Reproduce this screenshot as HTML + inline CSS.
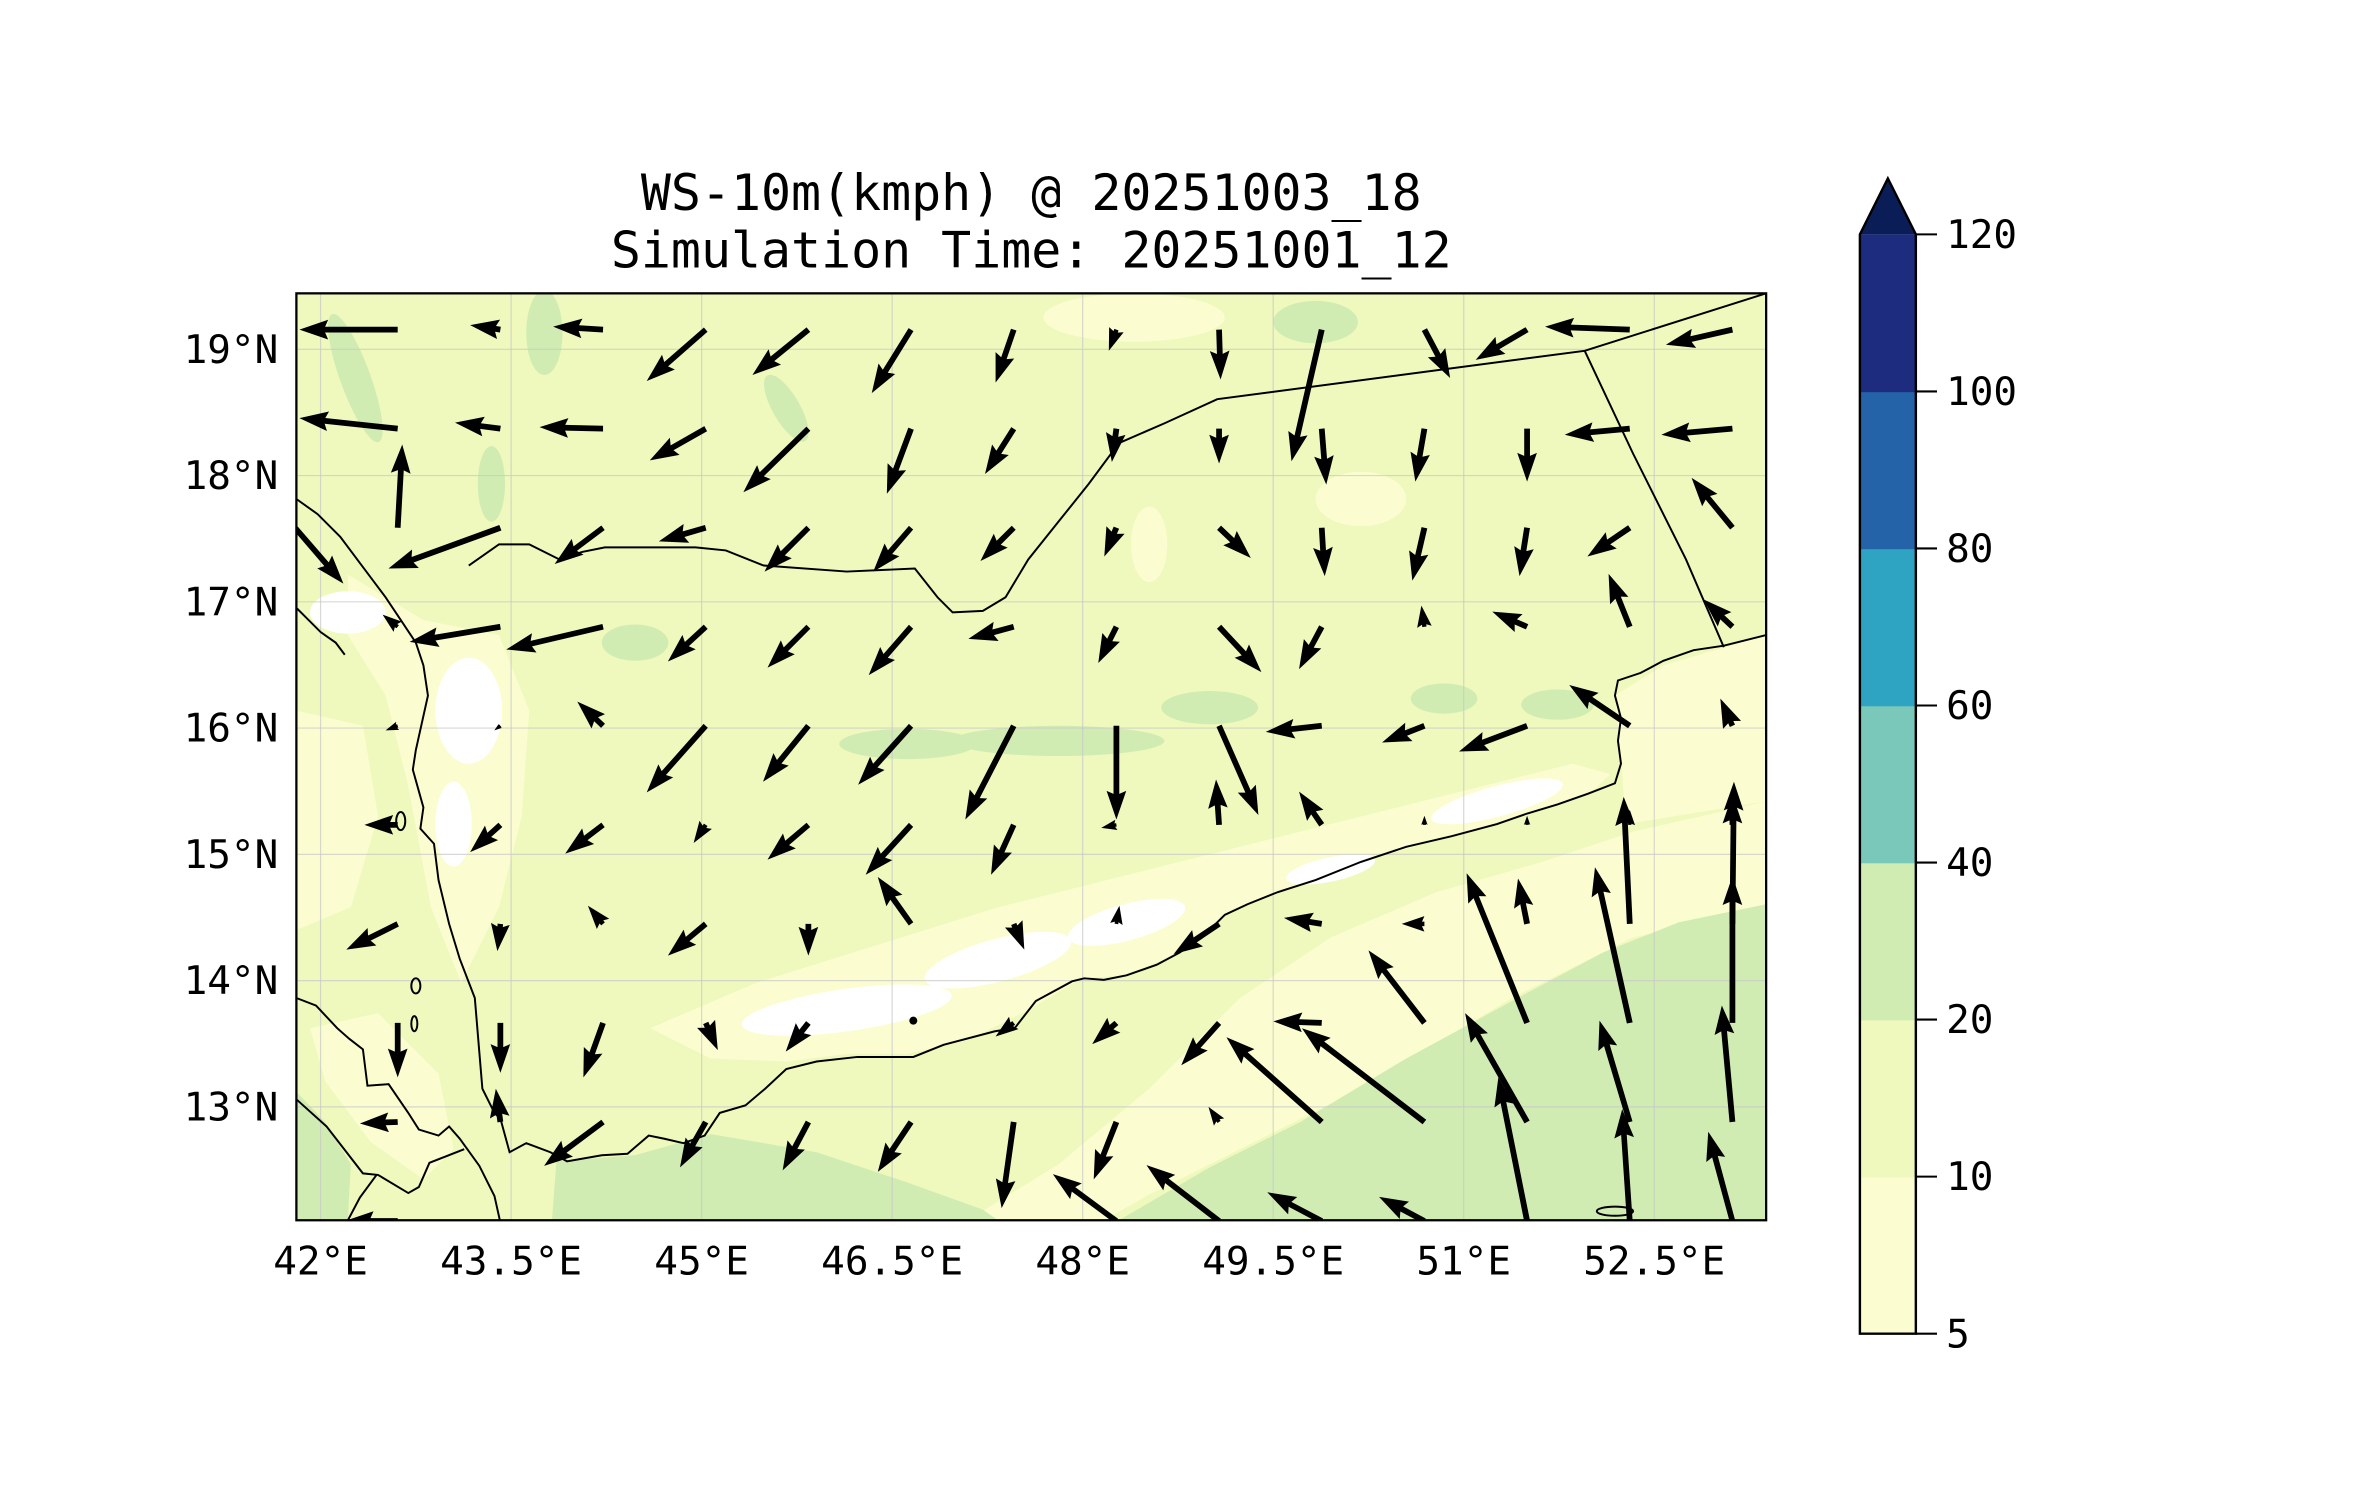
<!DOCTYPE html>
<html><head><meta charset="utf-8">
<style>
html,body{margin:0;padding:0;background:#fff;}
svg{display:block;}
text{font-family:"DejaVu Sans Mono","Liberation Mono",monospace;fill:#000;}
</style></head>
<body>
<svg id="fig" width="2371" height="1500" viewBox="0 0 1568 992" xmlns="http://www.w3.org/2000/svg">
  <defs>
    <clipPath id="mapclip"><rect x="196" y="194" width="972" height="613"/></clipPath>
  </defs>
  <text x="682" y="139" font-size="33" text-anchor="middle">WS-10m(kmph) @ 20251003_18</text>
  <text x="682" y="177" font-size="33" text-anchor="middle">Simulation Time: 20251001_12</text>

  <g clip-path="url(#mapclip)">
    <rect x="196" y="194" width="972" height="613" fill="#eff8bd"/>
    <g>
      <path fill="#fbfdd0" d="M640,807 L700,770 L760,720 L820,660 L880,620 L950,590 L1020,570 L1080,550 L1168,530 L1168,600 L1080,620 L1000,660 L900,720 L820,760 L760,790 L730,807 Z"/>
      <path fill="#fbfdd0" d="M1068,460 L1100,440 L1168,420 L1168,530 L1075,545 L1072,500 Z"/>
      <path fill="#d0ecb3" d="M740,807 L800,772 L860,742 L930,700 L1000,662 L1060,630 L1110,610 L1168,598 L1168,807 Z"/>
      <path fill="#d0ecb3" d="M365,807 L368,768 L420,764 L470,750 L540,762 L600,782 L650,800 L660,807 Z"/>
      <path fill="#d0ecb3" d="M196,722 L215,742 L232,770 L230,807 L196,807 Z"/>
      <path fill="#fbfdd0" d="M430,680 L500,650 L580,625 L660,600 L740,580 L820,560 L900,540 L980,520 L1040,505 L1065,512 L1050,526 L1010,538 L960,553 L900,570 L845,590 L810,605 L780,630 L745,645 L715,647 L680,668 L640,688 L600,697 L560,697 L520,702 L470,700 Z"/>
      <g fill="#ffffff">
        <ellipse cx="560" cy="668" rx="70" ry="14" transform="rotate(-8 560 668)"/>
        <ellipse cx="660" cy="635" rx="50" ry="14" transform="rotate(-15 660 635)"/>
        <ellipse cx="745" cy="610" rx="40" ry="12" transform="rotate(-15 745 610)"/>
        <ellipse cx="990" cy="530" rx="45" ry="10" transform="rotate(-15 990 530)"/>
        <ellipse cx="880" cy="575" rx="30" ry="8" transform="rotate(-12 880 575)"/>
      </g>
      <path fill="#fbfdd0" d="M230,380 L280,410 L330,420 L350,470 L345,540 L330,600 L305,650 L285,600 L270,520 L255,460 L230,420 Z"/>
      <g fill="#ffffff">
        <ellipse cx="310" cy="470" rx="22" ry="35"/>
        <ellipse cx="300" cy="545" rx="12" ry="28"/>
        <ellipse cx="230" cy="405" rx="25" ry="14"/>
      </g>
      <path fill="#fbfdd0" d="M196,470 L240,480 L250,540 L232,600 L196,615 Z"/>
      <path fill="#fbfdd0" d="M205,680 L250,670 L290,710 L300,760 L280,780 L245,755 L215,715 Z"/>
      <g fill="#d0ecb3">
        <ellipse cx="800" cy="468" rx="32" ry="11"/>
        <ellipse cx="700" cy="490" rx="70" ry="10"/>
        <ellipse cx="600" cy="492" rx="45" ry="10"/>
        <ellipse cx="955" cy="462" rx="22" ry="10"/>
        <ellipse cx="1030" cy="466" rx="24" ry="10"/>
        <ellipse cx="870" cy="213" rx="28" ry="14"/>
        <ellipse cx="420" cy="425" rx="22" ry="12"/>
        <ellipse cx="235" cy="250" rx="10" ry="45" transform="rotate(-20 235 250)"/>
        <ellipse cx="325" cy="320" rx="9" ry="25"/>
        <ellipse cx="360" cy="220" rx="12" ry="28"/>
        <ellipse cx="520" cy="270" rx="9" ry="25" transform="rotate(-30 520 270)"/>
      </g>
      <g fill="#fbfdd0">
        <ellipse cx="750" cy="210" rx="60" ry="16"/>
        <ellipse cx="900" cy="330" rx="30" ry="18"/>
        <ellipse cx="760" cy="360" rx="12" ry="25"/>
      </g>
    </g>

    <g id="gridlines" stroke="#c8c8c8" stroke-width="0.8" stroke-opacity="0.7"></g>

    <g fill="none" stroke="#000" stroke-width="1.3">
      <polyline points="196,330 210,340 225,355 240,375 255,395 265,410 275,425 280,440 283,460 275,496 273,509 280,534 278,548 287,558 290,582 297,611 304,634 314,660 317,696 319,720 327,736 331,740 337,762 348,756 364,762 375,768 398,764 415,763 429,751 439,753 452,756 466,751 476,736 493,731 506,720 520,707 540,702 567,699 604,699 624,691 658,682 671,680 685,662 709,649 717,647 730,648 745,645 765,638 780,630 795,620 810,605 825,598 845,590 870,582 900,570 930,560 960,553 990,545 1010,538 1030,532 1050,525 1068,518 1072,505 1070,490 1072,475 1068,460 1070,450 1085,445 1100,437 1120,430 1140,427 1168,420"/>
      <polyline points="196,660 209,665 223,680 231,687 240,694 243,718 257,717 270,736 277,747 290,751 297,745 304,753 317,771 327,791 331,809"/>
      <polyline points="196,402 204,410 212,418 222,425 228,433"/>
      <polyline points="196,727 216,745 240,776 250,777 270,789 277,785 284,769 307,760"/>
      <polyline points="249,777 238,792 229,809"/>
      <polyline points="310,374 330,360 350,360 370,370 385,365 400,362 460,362 480,364 505,374 560,378 605,376 620,395 630,405 650,404 665,395 680,370 700,345 720,320 740,293 770,280 805,264 1048,232 1168,194"/>
      <polyline points="1048,232 1080,300 1115,370 1140,428"/>
      <ellipse cx="265" cy="543" rx="3" ry="6"/>
      <ellipse cx="275" cy="652" rx="3" ry="5"/>
      <ellipse cx="274" cy="677" rx="2" ry="5"/>
      <ellipse cx="1068" cy="801" rx="12" ry="3"/>
      <circle cx="604" cy="675" r="2" fill="#000"/>
    </g>

    <g id="arrows" fill="#000"></g>
  </g>
  <rect x="196" y="194" width="972" height="613" fill="none" stroke="#000" stroke-width="1.5"/>

  <g id="latlabels" font-size="26"></g>
  <g id="lonlabels" font-size="26"></g>

  <g id="colorbar"></g>
</svg>
<script>
// ---- data ----
var lonTicks = [42, 43.5, 45, 46.5, 48, 49.5, 51, 52.5];
var latTicks = [19, 18, 17, 16, 15, 14, 13];
var lonLabels = ["42°E","43.5°E","45°E","46.5°E","48°E","49.5°E","51°E","52.5°E"];
var latLabels = ["19°N","18°N","17°N","16°N","15°N","14°N","13°N"];
var cbLevels = [5, 10, 20, 40, 60, 80, 100, 120];
var cbColors = ["#fbfdd0","#eff8bd","#d0ecb3","#7ac8ba","#2fa4c2","#2463a8","#1e2c80"];
var cbExtendColor = "#0a1d57";
// wind components per grid row (north to south), columns west to east (first column is edge column)
var windU = [
 [0,-65,-20,-33,-39,-37,-26,-12,-5,1,-20,17,-34,-56,-44],
 [0,-65,-30,-42,-37,-43,-16,-19,-3,0,3,-6,0,-43,-47],
 [32,3,-74,-32,-31,-29,-25,-22,-8,21,2,-8,-5,-28,-27],
 [0,-10,-60,-64,-25,-27,-28,-30,-12,28,-15,-2,-23,-14,-19],
 [0,-8,-4,-17,-39,-30,-35,-32,0,26,-37,-28,-45,-40,-8],
 [0,-22,-20,-25,-8,-27,-30,-15,-10,-2,-15,0,0,0,0],
 [0,-34,-2,-10,-25,0,-22,7,2,-30,-25,-15,-6,-4,1],
 [0,0,0,-13,8,-15,0,-12,-16,-25,-32,-37,-40,-23,0],
 [0,-25,-3,-39,-17,-17,-22,-8,-15,-7,-63,-81,-41,-20,-7],
 [0,-35,0,0,0,0,0,0,-42,-48,-36,-30,-19,-5,-16]
];
var windV = [
 [0,0,3,2,-34,-30,-42,-35,-14,-33,-87,-32,-20,2,-10],
 [0,7,4,1,-21,-42,-43,-30,-22,-23,-37,-35,-35,-4,-4],
 [-37,55,-27,-24,-9,-29,-29,-22,-19,-20,-32,-35,-32,-19,33],
 [0,8,-10,-15,-23,-27,-32,-8,-24,-30,-28,14,10,35,18],
 [0,-3,-3,16,-44,-37,-39,-62,-62,-59,-4,-11,-17,27,18],
 [0,0,-18,-19,-12,-23,-33,-33,-2,30,22,6,6,10,20],
 [0,-17,-18,12,-21,-21,31,-17,12,-20,4,0,30,84,94],
 [0,-36,-33,-36,-18,-19,0,-9,-14,-28,1,48,99,103,97],
 [0,-1,22,-29,-30,-32,-33,-57,-38,10,56,62,72,67,77],
 [0,0,-10,-10,-10,-10,-10,-10,31,37,19,16,95,74,59]
];

// ---- axis functions ----
function lonX(lon){ return 212 + (lon - 42) * 84; }
function latY(lat){ return 231 - (lat - 19) * 83.5; }
function gridX(c){ return 263 + (c - 1) * 67.9; }
function gridY(r){ return 218 + r * 65.5; }
var NS = "http://www.w3.org/2000/svg";

var gl = document.getElementById('gridlines');
lonTicks.forEach(function(lon){
  var l = document.createElementNS(NS,'line');
  
  
  l.setAttribute('x1', lonX(lon)); l.setAttribute('x2', lonX(lon));
  l.setAttribute('y1', 194); l.setAttribute('y2', 807);
  gl.appendChild(l);
});
latTicks.forEach(function(lat){
  var l = document.createElementNS(NS,'line');
  
  
  l.setAttribute('x1', 196); l.setAttribute('x2', 1168);
  l.setAttribute('y1', latY(lat)); l.setAttribute('y2', latY(lat));
  gl.appendChild(l);
});

var ll = document.getElementById('latlabels');
latTicks.forEach(function(lat,i){
  var t = document.createElementNS(NS,'text');
  
  
  t.setAttribute('x', 184); t.setAttribute('y', latY(lat) + 9);
  t.setAttribute('text-anchor','end');
  t.textContent = latLabels[i];
  ll.appendChild(t);
});
var lo = document.getElementById('lonlabels');
lonTicks.forEach(function(lon,i){
  var t = document.createElementNS(NS,'text');
  
  
  t.setAttribute('x', lonX(lon)); t.setAttribute('y', 843);
  t.setAttribute('text-anchor','middle');
  t.textContent = lonLabels[i];
  lo.appendChild(t);
});

var ag = document.getElementById('arrows');
var W = 3.8, HW = 13, HL = 19, HA = 17;
for (var r = 0; r < windU.length; r++){
  for (var c = 0; c < windU[r].length; c++){
    var dx = windU[r][c], dy = -windV[r][c];
    var L = Math.sqrt(dx*dx + dy*dy);
    if (L < 1) continue;
    var s = L < HL ? L / HL : 1;
    var w = W * Math.max(s, 0.6), hw = HW * s, hl = HL * s, ha = HA * s;
    var pts = [[0,-w/2],[L-ha,-w/2],[L-hl,-hw/2],[L,0],[L-hl,hw/2],[L-ha,w/2],[0,w/2]];
    var ang = Math.atan2(dy, dx), ca = Math.cos(ang), sa = Math.sin(ang);
    var tx = gridX(c), ty = gridY(r);
    var str = pts.map(function(p){ return (tx + p[0]*ca - p[1]*sa).toFixed(1) + ',' + (ty + p[0]*sa + p[1]*ca).toFixed(1); }).join(' ');
    var poly = document.createElementNS(NS,'polygon');
    
    
    poly.setAttribute('points', str);
    ag.appendChild(poly);
  }
}

var cb = document.getElementById('colorbar');
var cbX = 1230, cbW = 37, cbTop = 155, cbBot = 882;
var step = (cbBot - cbTop) / (cbLevels.length - 1);
function cbY(i){ return cbBot - i * step; }
for (var i = 0; i < cbColors.length; i++){
  var rc = document.createElementNS(NS,'rect');
  
  
  rc.setAttribute('x', cbX); rc.setAttribute('width', cbW);
  rc.setAttribute('y', cbY(i+1)); rc.setAttribute('height', step + 0.5);
  rc.setAttribute('fill', cbColors[i]);
  cb.appendChild(rc);
}
var tri = document.createElementNS(NS,'polygon');


tri.setAttribute('points', cbX+','+cbTop+' '+(cbX+cbW/2)+',118 '+(cbX+cbW)+','+cbTop);
tri.setAttribute('fill', cbExtendColor);
cb.appendChild(tri);
var outline = document.createElementNS(NS,'polygon');


outline.setAttribute('points', cbX+','+cbBot+' '+cbX+','+cbTop+' '+(cbX+cbW/2)+',118 '+(cbX+cbW)+','+cbTop+' '+(cbX+cbW)+','+cbBot);
outline.setAttribute('fill', 'none'); outline.setAttribute('stroke', '#000'); outline.setAttribute('stroke-width', '1.6');
cb.appendChild(outline);
cbLevels.forEach(function(v,i){
  var tk = document.createElementNS(NS,'line');
  
  
  tk.setAttribute('x1', cbX+cbW); tk.setAttribute('x2', cbX+cbW+14);
  tk.setAttribute('y1', cbY(i)); tk.setAttribute('y2', cbY(i));
  tk.setAttribute('stroke', '#000'); tk.setAttribute('stroke-width', '1.4');
  cb.appendChild(tk);
  var t = document.createElementNS(NS,'text');
  
  
  t.setAttribute('x', 1287); t.setAttribute('y', cbY(i) + 9);
  t.setAttribute('font-size', '26');
  t.textContent = String(v);
  cb.appendChild(t);
});
</script>
</body></html>
